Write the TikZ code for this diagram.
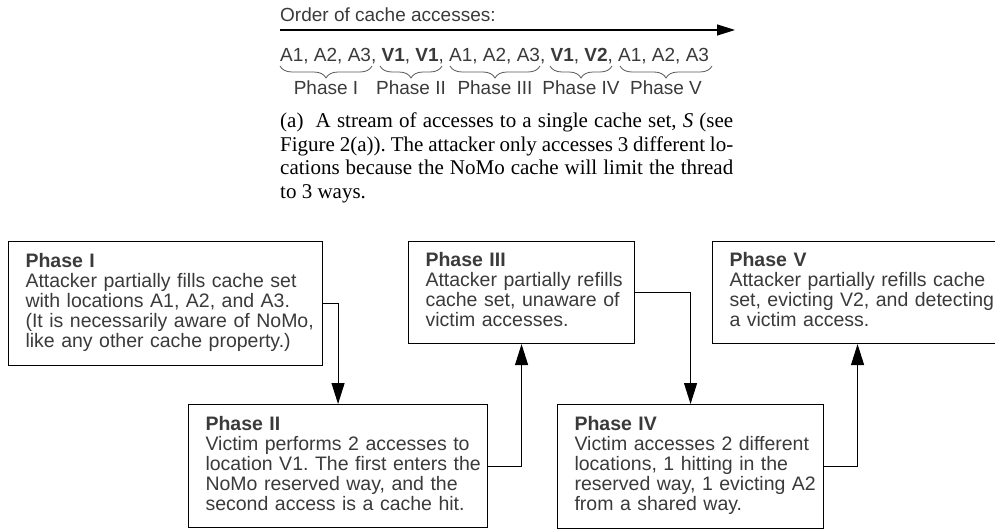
\documentclass[tikz,border=0pt]{standalone}
\usepackage{fontspec}
\setmainfont{Liberation Serif}
\setsansfont{Liberation Sans}
\usetikzlibrary{arrows.meta,decorations.pathreplacing}
\definecolor{txt}{HTML}{3A3A3A}
\frenchspacing
\begin{document}
\frenchspacing
\begin{tikzpicture}[x=1pt,y=-1pt,
  phase/.style={draw=black, line width=1.1pt, anchor=north west, inner xsep=17pt, inner ysep=0pt,
    align=left, text=txt, font=\sffamily\fontsize{19.5}{19.6}\selectfont\frenchspacing},
  conn/.style={line width=1.1pt, -{Triangle[length=21pt,width=13pt]}},
  brc/.style={decorate, decoration={brace, mirror, amplitude=12pt}, draw=txt!85, line width=0.8pt},
  lab/.style={text=txt, font=\sffamily\fontsize{19}{22}\selectfont, inner sep=0pt}
]
\useasboundingbox (0,0) rectangle (995,529);
\clip (0,0) rectangle (995,529);

% top: order of accesses
\node[lab, anchor=base west] (ord) at (280,22) {Order of cache accesses:};
\coordinate (as) at (280,30);
\coordinate (ae) at (735,30);
\draw[line width=1.2pt, -{Triangle[length=18pt,width=11pt]}] (as) -- (ae);
\node[lab, anchor=base west] (seq) at (280,62)
  {A1, A2, A3, \textbf{V1}, \textbf{V1}, A1, A2, A3, \textbf{V1}, \textbf{V2}, A1, A2, A3};

% braces
\coordinate (b1a) at (280,66); \coordinate (b1b) at (372,66);
\coordinate (b2a) at (380,66); \coordinate (b2b) at (442,66);
\coordinate (b3a) at (450,66); \coordinate (b3b) at (540,66);
\coordinate (b4a) at (550,66); \coordinate (b4b) at (612,66);
\coordinate (b5a) at (620,66); \coordinate (b5b) at (712,66);
\draw[brc] (b1a) -- (b1b);
\draw[brc] (b2a) -- (b2b);
\draw[brc] (b3a) -- (b3b);
\draw[brc] (b4a) -- (b4b);
\draw[brc] (b5a) -- (b5b);
\node[lab, anchor=base] (l1) at (326,95) {Phase I};
\node[lab, anchor=base] (l2) at (411,95) {Phase II};
\node[lab, anchor=base] (l3) at (495,95) {Phase III};
\node[lab, anchor=base] (l4) at (581,95) {Phase IV};
\node[lab, anchor=base] (l5) at (666,95) {Phase V};

% caption
\node[anchor=north west, inner sep=0pt, text width=453pt, align=justify,
      font=\fontsize{21}{23.5}\selectfont\frenchspacing] (cap) at (280,113)
  {(a)\ \ A stream of accesses to a single cache set, \textit{S} (see\linebreak
   Figure 2(a)). The attacker only accesses 3 different lo-\linebreak
   cations because the NoMo cache will limit the thread\linebreak
   to 3 ways.};

% phase boxes
\node[phase, text width=280pt, minimum height=124pt] (p1) at (8,241)
  {\begin{tabular}{@{}l@{}}\textbf{Phase I}\\
   Attacker partially fills cache set\\
   with locations A1, A2, and A3.\\
   (It is necessarily aware of NoMo,\\
   like any other cache property.)\end{tabular}};
\node[phase, text width=265pt, minimum height=123pt] (p2) at (188,404)
  {\begin{tabular}{@{}l@{}}\textbf{Phase II}\\
   Victim performs 2 accesses to\\
   location V1. The first enters the\\
   NoMo reserved way, and the\\
   second access is a cache hit.\end{tabular}};
\node[phase, text width=192pt, minimum height=102pt] (p3) at (408,241)
  {\begin{tabular}{@{}l@{}}\textbf{Phase III}\\
   Attacker partially refills\\
   cache set, unaware of\\
   victim accesses.\end{tabular}};
\node[phase, text width=232pt, minimum height=124pt] (p4) at (557,404)
  {\begin{tabular}{@{}l@{}}\textbf{Phase IV}\\
   Victim accesses 2 different\\
   locations, 1 hitting in the\\
   reserved way, 1 evicting A2\\
   from a shared way.\end{tabular}};
\node[phase, text width=256pt, minimum height=102pt] (p5) at (712,241)
  {\begin{tabular}{@{}l@{}}\textbf{Phase V}\\
   Attacker partially refills cache\\
   set, evicting V2, and detecting\\
   a victim access.\end{tabular}};

% connectors
\draw[conn] (p1.east) -| (p2.north);
\draw[conn] (p2.east) -| (p3.south);
\draw[conn] (p3.east) -| (p4.north);
\draw[conn] (p4.east) -| (p5.south);
\end{tikzpicture}
\end{document}
